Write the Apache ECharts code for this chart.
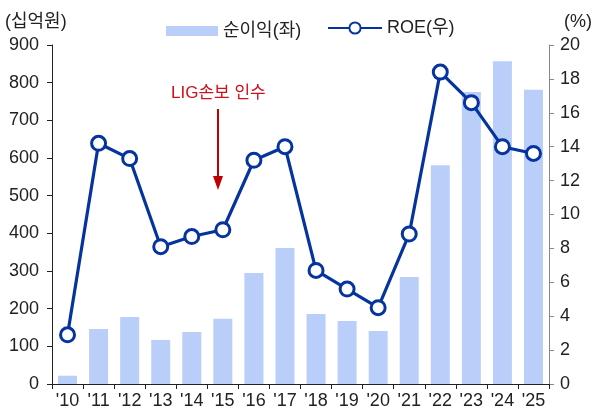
<!DOCTYPE html>
<html><head><meta charset="utf-8">
<script src="https://cdn.jsdelivr.net/npm/echarts@6/dist/echarts.min.js"></script>
<style>html,body{margin:0;padding:0;background:#fff}#c{width:595px;height:416px}</style>
</head><body><div id="c"></div>
<script>
const categories = ["'10","'11","'12","'13","'14","'15","'16","'17","'18","'19","'20","'21","'22","'23","'24","'25"];
const netIncome = [22,146,178,117,138,173,295,361,186,167,141,284,581,775,857,781];
const roe = [2.9,14.2,13.3,8.1,8.7,9.1,13.2,14.0,6.7,5.6,4.5,8.85,18.4,16.6,14.0,13.6];
const leftTicks = {min:0,max:900,interval:100};
const rightTicks = {min:0,max:20,interval:2};

const FONT = '"Liberation Sans", Arial, "Noto Sans CJK KR", sans-serif';
const BLUE = '#06349e';
const chart = echarts.init(document.getElementById('c'));
chart.setOption({
  animation:false,
  textStyle:{fontFamily:FONT},
  grid:{left:52,right:40,top:45,bottom:32},
  legend:[{
    top:17,left:161,itemGap:22,
    textStyle:{fontSize:18,color:'#222',fontFamily:FONT},
    data:[{name:'순이익(좌)',icon:'rect',itemStyle:{color:'#b9cffa'}}],
    itemWidth:52,itemHeight:10
  },{
    top:14,left:322,
    textStyle:{fontSize:18,color:'#222',fontFamily:FONT},
    data:[{name:'ROE(우)'}],
    itemWidth:54,itemHeight:14
  }],
  xAxis:{
    type:'category',data:categories,boundaryGap:true,
    axisLine:{lineStyle:{color:'#222',width:1}},
    axisTick:{show:true,length:5,alignWithLabel:false,interval:0,lineStyle:{color:'#222'}},
    axisLabel:{fontSize:18,color:'#222',margin:8,interval:0,fontFamily:FONT}
  },
  yAxis:[{
    type:'value',min:leftTicks.min,max:leftTicks.max,interval:leftTicks.interval,
    name:'(십억원)',nameLocation:'end',nameGap:14,nameTextStyle:{fontSize:18,color:'#222',align:'left',padding:[0,0,0,-47],fontFamily:FONT},
    axisLine:{show:true,lineStyle:{color:'#222'}},
    axisTick:{show:true,length:5,lineStyle:{color:'#222'}},
    splitLine:{show:false},
    axisLabel:{fontSize:18,color:'#222',margin:13,fontFamily:FONT}
  },{
    type:'value',min:rightTicks.min,max:rightTicks.max,interval:rightTicks.interval,position:'right',
    name:'(%)',nameLocation:'end',nameGap:14,nameTextStyle:{fontSize:18,color:'#222',align:'left',padding:[0,0,0,15],fontFamily:FONT},
    axisLine:{show:true,lineStyle:{color:'#888'}},
    axisTick:{show:true,length:5,lineStyle:{color:'#888'}},
    splitLine:{show:false},
    axisLabel:{fontSize:18,color:'#222',margin:11,fontFamily:FONT}
  }],
  series:[{
    name:'순이익(좌)',type:'bar',data:netIncome,barWidth:19,
    itemStyle:{color:'#b9cffa'}
  },{
    name:'ROE(우)',type:'line',yAxisIndex:1,data:roe,
    symbol:'circle',symbolSize:14,
    lineStyle:{color:BLUE,width:3.2},
    itemStyle:{color:'#fff',borderColor:BLUE,borderWidth:3}
  }],
  graphic:[
    {type:'text',left:171,top:85,style:{text:'LIG손보 인수',fill:'#d0101a',font:'17px '+FONT}},
    {type:'line',shape:{x1:218,y1:109,x2:218,y2:178},style:{stroke:'#c00000',lineWidth:2}},
    {type:'polygon',shape:{points:[[213,176],[223,176],[218,190]]},style:{fill:'#c00000'}}
  ]
});
</script></body></html>
